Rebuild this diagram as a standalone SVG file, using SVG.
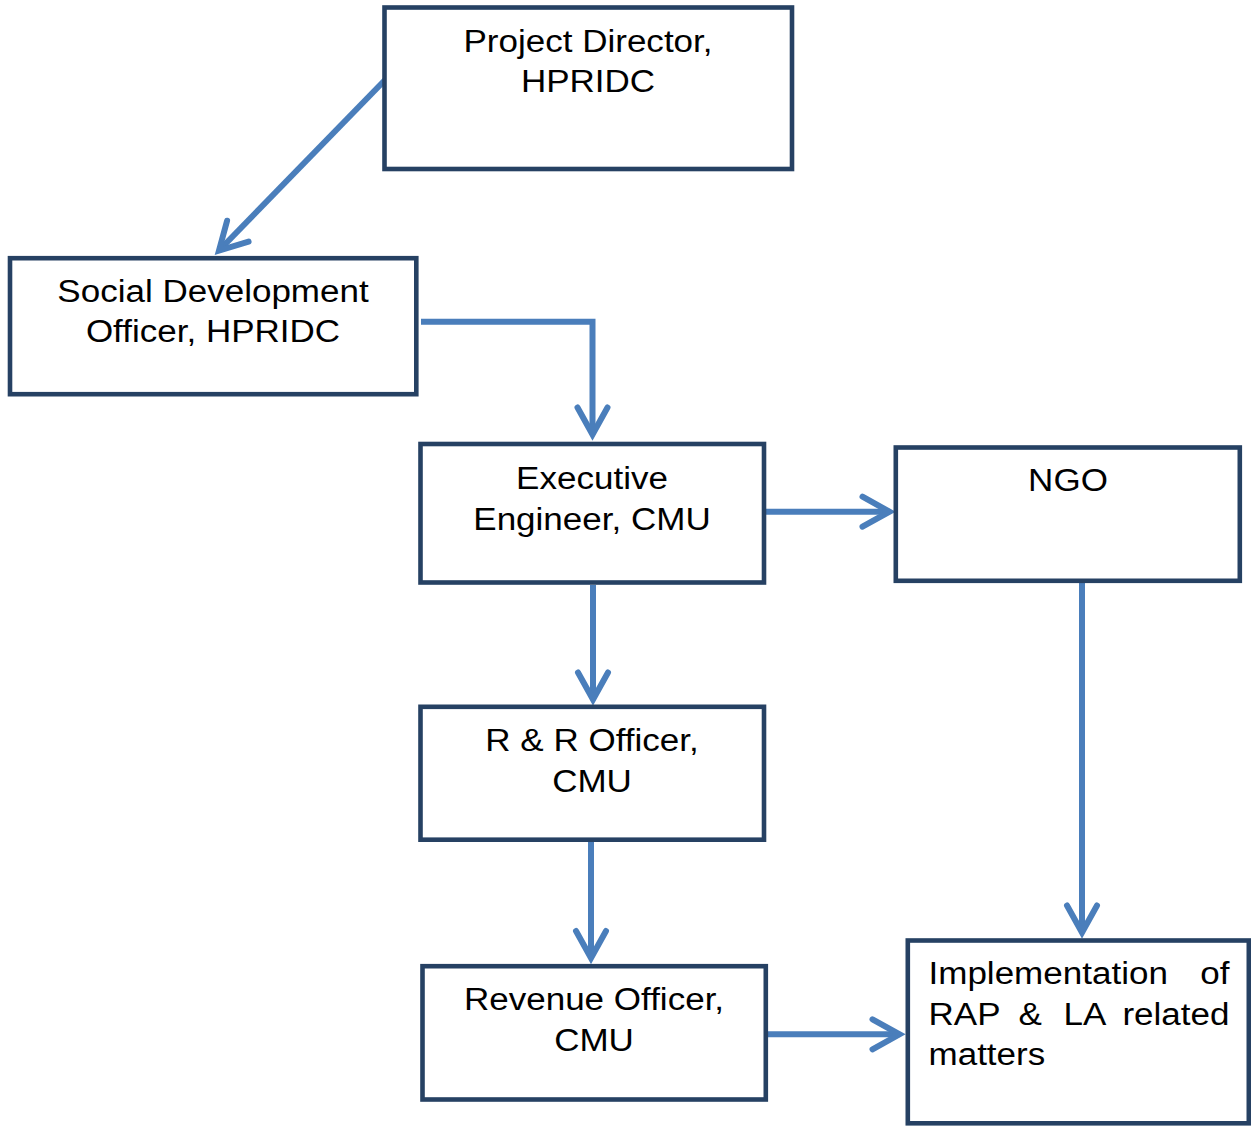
<svg xmlns="http://www.w3.org/2000/svg" width="1251" height="1126" viewBox="0 0 1251 1126">
<style>
.box{fill:#ffffff;stroke:#264163;stroke-width:4.6}
.lbl{font-family:"Liberation Sans",Arial,sans-serif;font-size:31px;fill:#000000}
.c{text-anchor:middle}
.e{text-anchor:end}
.conn{fill:none;stroke:#4A7EBB;stroke-width:6;stroke-linejoin:miter}
</style>
<defs>
<marker id="chev" markerUnits="userSpaceOnUse" markerWidth="60" markerHeight="60" viewBox="0 0 60 60" refX="45" refY="30" orient="auto" overflow="visible">
<path d="M18 15 L45 30 L18 45" fill="none" stroke="#4A7EBB" stroke-width="6" stroke-linecap="round" stroke-linejoin="miter"/>
</marker>
</defs>
<rect width="1251" height="1126" fill="#ffffff"/>
<g id="connectors">
<path class="conn" d="M385 80 L219 250.5" marker-end="url(#chev)"/>
<path class="conn" d="M421 321.7 H592.5 V434.5" marker-end="url(#chev)"/>
<path class="conn" d="M766 511.7 H889.5" marker-end="url(#chev)"/>
<path class="conn" d="M593 585 V699.5" marker-end="url(#chev)"/>
<path class="conn" d="M591 842 V958" marker-end="url(#chev)"/>
<path class="conn" d="M1082 583 V932.5" marker-end="url(#chev)"/>
<path class="conn" d="M768 1034.3 H899.5" marker-end="url(#chev)"/>
</g>
<g id="project-director">
<rect class="box" x="384.5" y="7.5" width="407.5" height="161.5"/>
<text class="lbl c" transform="translate(588,52) scale(1.13,1)">Project Director,</text>
<text class="lbl c" transform="translate(588,92) scale(1.13,1)">HPRIDC</text>
</g>
<g id="social-development-officer">
<rect class="box" x="10" y="258.2" width="406.3" height="136"/>
<text class="lbl c" transform="translate(213,301.5) scale(1.13,1)">Social Development</text>
<text class="lbl c" transform="translate(213,342) scale(1.13,1)">Officer, HPRIDC</text>
</g>
<g id="executive-engineer">
<rect class="box" x="420.5" y="444" width="343.5" height="138.5"/>
<text class="lbl c" transform="translate(592,488.5) scale(1.13,1)">Executive</text>
<text class="lbl c" transform="translate(592,529.5) scale(1.13,1)">Engineer, CMU</text>
</g>
<g id="ngo">
<rect class="box" x="895.8" y="447.5" width="344" height="133.3"/>
<text class="lbl c" transform="translate(1068,491) scale(1.13,1)">NGO</text>
</g>
<g id="rr-officer">
<rect class="box" x="420.5" y="706.8" width="343.5" height="132.9"/>
<text class="lbl c" transform="translate(592,751) scale(1.13,1)">R &amp; R Officer,</text>
<text class="lbl c" transform="translate(592,791.5) scale(1.13,1)">CMU</text>
</g>
<g id="revenue-officer">
<rect class="box" x="422.5" y="966.2" width="343.3" height="133.3"/>
<text class="lbl c" transform="translate(594,1010) scale(1.13,1)">Revenue Officer,</text>
<text class="lbl c" transform="translate(594,1050.5) scale(1.13,1)">CMU</text>
</g>
<g id="implementation">
<rect class="box" x="907.8" y="940.5" width="341" height="182.8"/>
<text class="lbl" transform="translate(928.5,983.5) scale(1.13,1)">Implementation</text>
<text class="lbl e" transform="translate(1229.5,983.5) scale(1.13,1)">of</text>
<text class="lbl" transform="translate(928.5,1024.5) scale(1.13,1)">RAP</text>
<text class="lbl" transform="translate(1018.5,1024.5) scale(1.13,1)">&amp;</text>
<text class="lbl" transform="translate(1063.5,1024.5) scale(1.13,1)">LA</text>
<text class="lbl e" transform="translate(1229.5,1024.5) scale(1.13,1)">related</text>
<text class="lbl" transform="translate(928.5,1065) scale(1.13,1)">matters</text>
</g>
</svg>
